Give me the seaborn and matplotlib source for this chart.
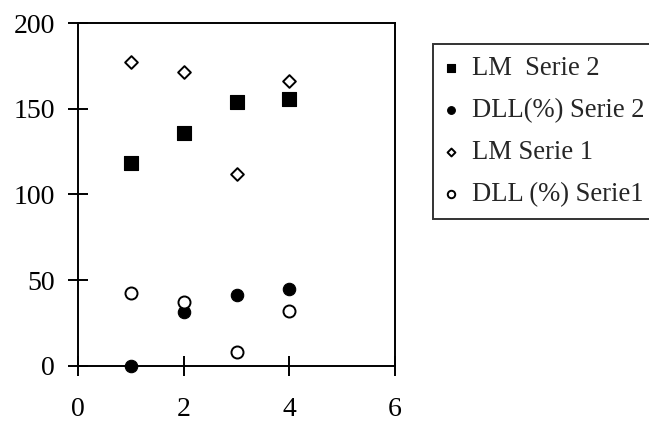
import matplotlib
matplotlib.use("Agg")
import matplotlib.pyplot as plt
import seaborn as sns
import pandas as pd

x_vals = [1, 2, 3, 4]
lm_serie2 = [118.4, 135.7, 154.2, 155.6]
dll_serie2 = [0.0, 31.4, 41.3, 44.6]
lm_serie1 = [177.2, 171.5, 112.0, 166.3]
dll_serie1 = [42.3, 37.2, 7.8, 31.8]
labels = ["LM  Serie 2", "DLL(%) Serie 2", "LM Serie 1", "DLL (%) Serie1"]
x_ticks = [0, 2, 4, 6]
y_ticks = [0, 50, 100, 150, 200]

sns.set_style("white")
plt.rcParams["font.family"] = ["Liberation Serif", "DejaVu Serif"]

fig = plt.figure(figsize=(6.49, 4.21), dpi=100)
ax = fig.add_axes([0.1207, 0.1314, 0.4879, 0.8133])

series = [
    (lm_serie2, labels[0], "s", "black", 95, 0.8),
    (dll_serie2, labels[1], "o", "black", 80, 0.8),
    (lm_serie1, labels[2], "D", "white", 42, 1.4),
    (dll_serie1, labels[3], "o", "white", 75, 1.4),
]
for vals, lab, mk, fc, s, lw in series:
    df = pd.DataFrame({"x": x_vals, "y": vals})
    sns.scatterplot(data=df, x="x", y="y", ax=ax, marker=mk, s=s,
                    color=fc, edgecolor="black", linewidth=lw, label=lab,
                    clip_on=False, zorder=3)

ax.set_xlim(0, 6)
ax.set_ylim(0, 200)
ax.set_xticks(x_ticks)
ax.set_yticks(y_ticks)
ax.set_xlabel("")
ax.set_ylabel("")
for sp in ax.spines.values():
    sp.set_color("black")
    sp.set_linewidth(1.4)
ax.tick_params(axis="both", which="major", direction="inout", length=14,
               width=1.4, colors="black", labelsize=20,
               bottom=True, left=True, top=False, right=False)
ax.tick_params(axis="x", pad=15.5)
ax.tick_params(axis="y", pad=10)

leg = ax.legend(loc="upper left", bbox_to_anchor=(432.7 / 649, 1 - 44 / 421),
                bbox_transform=fig.transFigure, frameon=True, fancybox=False,
                edgecolor="black", fontsize=19.2, handlelength=0.48,
                handletextpad=0.53, labelspacing=0.63, borderpad=0.46,
                borderaxespad=0, markerscale=0.62)
leg.get_frame().set_linewidth(1.4)

fig.savefig("out.png", dpi=100)
